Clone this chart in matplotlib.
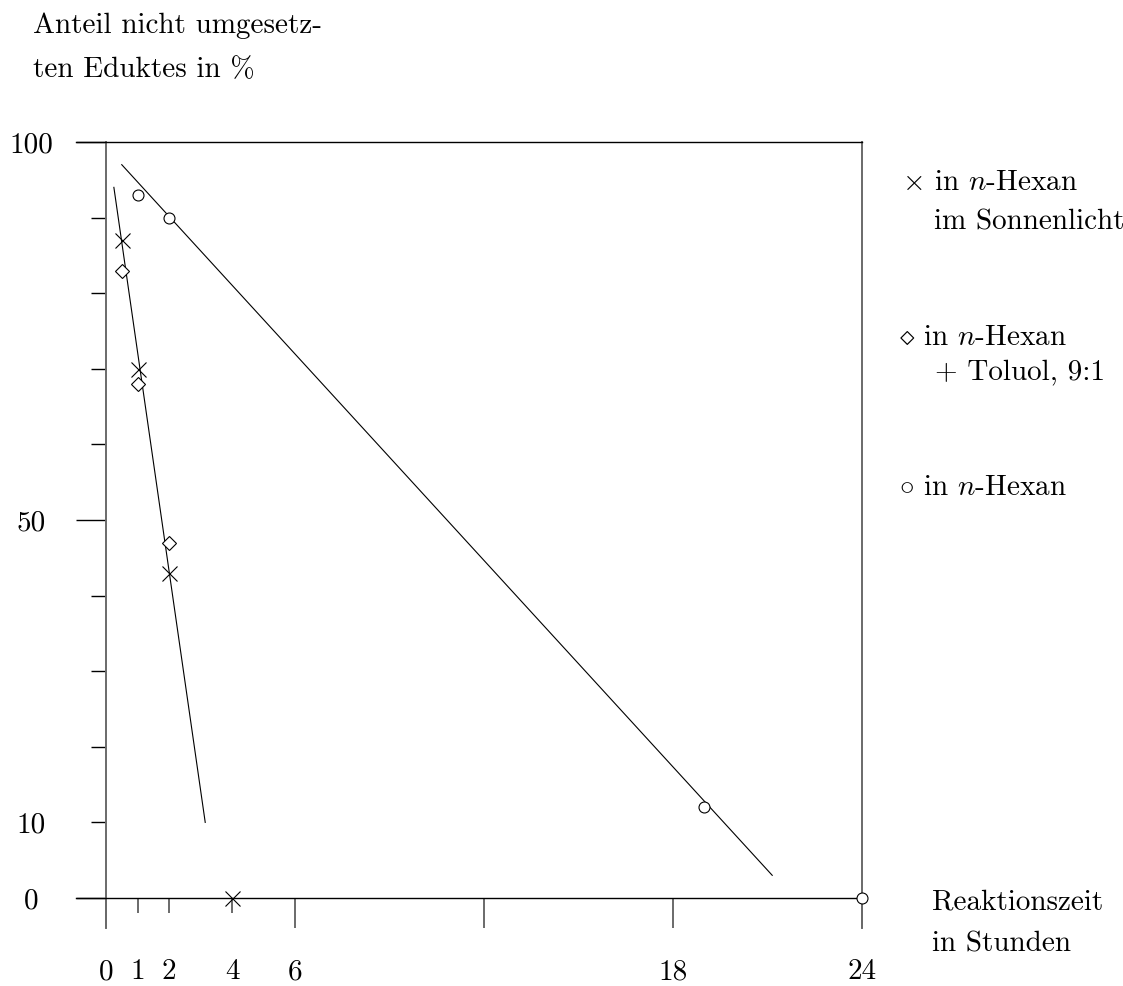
"""Reaktionskinetik: Anteil nicht umgesetzten Eduktes gegen Reaktionszeit."""

import matplotlib

matplotlib.use("Agg")
import matplotlib.pyplot as plt

# --- data ------------------------------------------------------------------
hours_sun = [0.5, 1, 2, 4]          # x  in n-Hexan im Sonnenlicht
pct_sun = [87, 70, 43, 0]
hours_tol = [0.5, 1, 2]             # diamond  in n-Hexan + Toluol, 9:1
pct_tol = [83, 68, 47]
hours_hex = [1, 2, 19, 24]          # circle  in n-Hexan
pct_hex = [93, 90, 12, 0]

fit_fast_x = [0.25, 3.15]
fit_fast_y = [94, 10]
fit_slow_x = [0.5, 21.15]
fit_slow_y = [97, 3]

x_major = [0, 6, 12, 18, 24]
x_major_labels = ["0", "6", "", "18", "24"]
x_minor = [1, 2, 4]
x_minor_labels = ["1", "2", "4"]
y_major = [0, 50, 100]
y_major_labels = ["0", "50", "100"]
y_minor = [10, 20, 30, 40, 60, 70, 80, 90]
y_minor_labels = ["10", "", "", "", "", "", "", ""]

# --- layout (pixels of the 1123x986 canvas) ---------------------------------
W, H = 1123, 986
X0_PX, X24_PX = 106, 862
Y0_PX, Y100_PX = 898, 142
OVERHANG = 30  # frame lines run past the zero lines
PT = 0.72      # points per pixel at dpi 100
FS = 21

plt.rcParams["font.family"] = "cmr10"
plt.rcParams["mathtext.fontset"] = "cm"
plt.rcParams["axes.unicode_minus"] = False

fig = plt.figure(figsize=(W / 100, H / 100), dpi=100)
ax = fig.add_axes([
    (X0_PX - OVERHANG) / W,
    (H - Y0_PX - OVERHANG) / H,
    (X24_PX - X0_PX + OVERHANG) / W,
    (Y0_PX + OVERHANG - Y100_PX) / H,
])
px_x = (X24_PX - X0_PX) / 24
px_y = (Y0_PX - Y100_PX) / 100
ax.set_xlim(-OVERHANG / px_x, 24)
ax.set_ylim(-OVERHANG / px_y, 100)

ax.spines["left"].set_position(("data", 0))
ax.spines["bottom"].set_position(("data", 0))
for side in ("left", "right"):
    ax.spines[side].set_color("#6a6a6a")
    ax.spines[side].set_linewidth(1.4)
for side in ("top", "bottom"):
    ax.spines[side].set_color("black")
    ax.spines[side].set_linewidth(1.0)

# fit lines
ax.plot(fit_fast_x, fit_fast_y, color="black", lw=0.8)
ax.plot(fit_slow_x, fit_slow_y, color="black", lw=0.8)

# measurements
ax.plot(hours_sun, pct_sun, ls="none", marker="x", ms=10.8, mew=0.8,
        color="black", clip_on=False, zorder=5)
ax.plot(hours_tol, pct_tol, ls="none", marker="D", ms=7.0, mew=0.8,
        mfc="white", mec="black", clip_on=False, zorder=5)
ax.plot(hours_hex, pct_hex, ls="none", marker="o", ms=7.9, mew=0.8,
        mfc="white", mec="black", clip_on=False, zorder=5)

# ticks
ax.set_xticks(x_major, labels=x_major_labels)
ax.set_xticks(x_minor, labels=x_minor_labels, minor=True)
ax.set_yticks(y_major, labels=y_major_labels)
ax.set_yticks(y_minor, labels=y_minor_labels, minor=True)

ax.tick_params(axis="x", which="major", direction="out", length=30 * PT,
               width=1.4, color="#6a6a6a", pad=31 * PT, labelsize=FS)
ax.tick_params(axis="x", which="minor", direction="out", length=15 * PT,
               width=1.4, color="#6a6a6a", pad=46 * PT, labelsize=FS)
ax.tick_params(axis="y", which="major", direction="out", length=30 * PT,
               width=1.0, color="black", pad=45 * PT, labelsize=FS)
ax.tick_params(axis="y", which="minor", direction="out", length=15 * PT,
               width=1.0, color="black", pad=60 * PT, labelsize=FS)
for lbl in ax.get_yticklabels(which="both"):
    lbl.set_horizontalalignment("center")


def fig_text(x_px, baseline_px, s):
    fig.text(x_px / W, 1 - baseline_px / H, s, ha="left", va="baseline",
             fontsize=FS)


# axis titles
fig_text(33, 33, "Anteil nicht umgesetz-")
fig_text(33, 77, "ten Eduktes in %")
fig_text(932, 909, "Reaktionszeit")
fig_text(932, 952, "in Stunden")

# legend
fig_text(902, 190, r"$\times$ in $n$-Hexan")
fig_text(934, 230, "im Sonnenlicht")
fig_text(899, 345, r"$\diamond$ in $n$-Hexan")
fig_text(935, 380, "+ Toluol, 9:1")
fig_text(899, 495, r"$\circ$ in $n$-Hexan")

fig.savefig("out.png", dpi=100)
